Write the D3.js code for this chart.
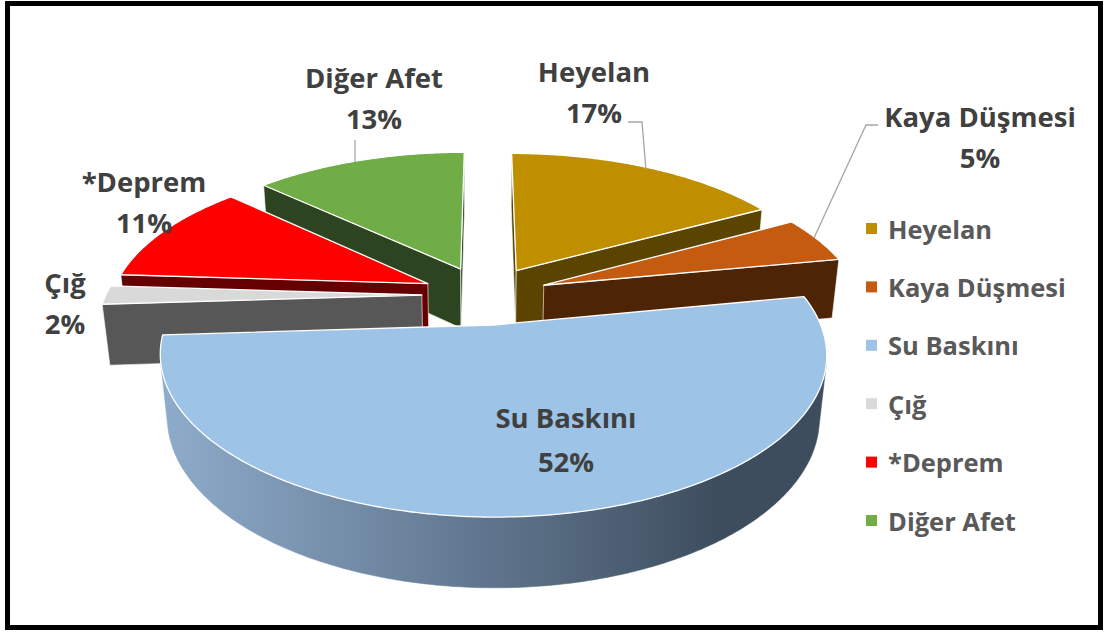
<!DOCTYPE html>
<html>
<head>
<meta charset="utf-8">
<script src="https://cdn.jsdelivr.net/npm/d3@7"></script>
<style>
  body { margin: 0; background: #fff; }
  svg { display: block; }
  text { font-family: "Open Sans", sans-serif; font-weight: 700; }
</style>
</head>
<body>
<div id="chart"></div>
<script>
// --- data ---
const categories = ["Heyelan", "Kaya Düşmesi", "Su Baskını", "Çığ", "*Deprem", "Diğer Afet"];
const values = [17, 5, 52, 2, 11, 13];

// --- colours (top face / cut faces / outer wall) ---
const topColors  = ["#BF8F00", "#C55A11", "#9DC3E6", "#D9D9D9", "#FF0000", "#70AD47"];
const cutColors  = ["#5a4400", "#4e2407", "#4a5a6b", "#575757", "#660000", "#2c4420"];
const wallColors = ["#6b5000", "#6b3008", "url(#suWall)", "#a6a6a6", "#800000", "#375b24"];

// data label anchors (centre of first line)
const labelPos = [[594, 72], [980, 117], [566, 418], [65, 283], [144, 182], [374, 78]];

const W = 1106, H = 634;
const svg = d3.select("#chart").append("svg")
  .attr("width", W)
  .attr("height", H);

const defs = svg.append("defs");
const grad = defs.append("linearGradient")
  .attr("id", "suWall")
  .attr("gradientUnits", "userSpaceOnUse")
  .attr("x1", 160).attr("x2", 720).attr("y1", 0).attr("y2", 0);
grad.append("stop").attr("offset", 0).attr("stop-color", "#8eaccb");
grad.append("stop").attr("offset", 0.45).attr("stop-color", "#6b829c");
grad.append("stop").attr("offset", 1).attr("stop-color", "#3d4d5e");

// frame
svg.append("rect")
  .attr("x", 7.5).attr("y", 3.5)
  .attr("width", 1093).attr("height", 624)
  .attr("fill", "#fff")
  .attr("stroke", "#000")
  .attr("stroke-width", 5);

// --- simple 3D projection of a tilted pie ---
const K = 316, cx = 485, cy = 295, D = 5;
const tilt = 27.5 * Math.PI / 180, explode = 0.2, thick = 0.22;
const sinT = Math.sin(tilt), cosT = Math.cos(tilt);
const cam = [0, D * sinT, -D * cosT];

function project(p) {
  const [x, y, z] = p;
  const yp = z * sinT + y * cosT;
  const zp = D + z * cosT - y * sinT;
  return [cx + K * x * D / zp, cy - K * yp * D / zp];
}
function facing(p, n) {
  return (cam[0] - p[0]) * n[0] + (cam[1] - p[1]) * n[1] + (cam[2] - p[2]) * n[2] > 0;
}
function dist(p) {
  return Math.hypot(cam[0] - p[0], cam[1] - p[1], cam[2] - p[2]);
}
const line = d3.line();
const poly = pts => line(pts.map(project)) + "Z";

const arcs = d3.pie().sort(null).value(d => d)(values);

const slices = arcs.map((a, i) => {
  const a0 = a.startAngle, a1 = a.endAngle, mid = (a0 + a1) / 2;
  const ox = explode * Math.sin(mid), oz = explode * Math.cos(mid);
  const pt = (t, r, y) => [ox + r * Math.sin(t), y, oz + r * Math.cos(t)];
  const n = Math.max(2, Math.ceil((a1 - a0) / 0.01));
  const ts = d3.range(n + 1).map(k => a0 + (a1 - a0) * k / n);
  return { i, a0, a1, mid, pt, ts, d: dist(pt(mid, 0.5, 0)) };
}).sort((p, q) => q.d - p.d);

const pieG = svg.append("g");

slices.forEach(s => {
  const { i, a0, a1, pt, ts } = s;
  const g = pieG.append("g");

  // cut faces
  const cuts = [
    { t: a0, n: [-Math.cos(a0), 0, Math.sin(a0)] },
    { t: a1, n: [Math.cos(a1), 0, -Math.sin(a1)] }
  ];
  cuts.forEach(c => {
    if (!facing(pt(c.t, 0.5, -thick / 2), c.n)) return;
    g.append("path")
      .attr("d", poly([pt(c.t, 0, 0), pt(c.t, 1, 0), pt(c.t, 1, -thick), pt(c.t, 0, -thick)]))
      .attr("fill", cutColors[i])
      .attr("stroke", "#fff")
      .attr("stroke-width", 1)
      .attr("stroke-opacity", 0.6)
      .attr("stroke-linejoin", "round");
  });

  // outer wall (visible part)
  const vis = ts.filter(t => facing(pt(t, 1, -thick / 2), [Math.sin(t), 0, Math.cos(t)]));
  if (vis.length > 1) {
    const pts = vis.map(t => pt(t, 1, 0)).concat(vis.slice().reverse().map(t => pt(t, 1, -thick)));
    g.append("path")
      .attr("d", poly(pts))
      .attr("fill", wallColors[i])
      .attr("stroke", wallColors[i])
      .attr("stroke-width", 0.5);
  }

  // top face
  const top = [pt(a0, 0, 0)].concat(ts.map(t => pt(t, 1, 0)));
  g.append("path")
    .attr("d", poly(top))
    .attr("fill", topColors[i])
    .attr("stroke", "#fff")
    .attr("stroke-width", 1.3)
    .attr("stroke-linejoin", "round");
});

// leader lines
const leaders = [
  [[628, 122], [642, 122], [646, 170]],
  [[878, 125], [866, 125], [814, 238]],
  [[355, 140], [355, 162]]
];
svg.append("g").selectAll("path")
  .data(leaders)
  .join("path")
  .attr("d", d => line(d))
  .attr("fill", "none")
  .attr("stroke", "#a6a6a6")
  .attr("stroke-width", 1.3);

// data labels
const total = d3.sum(values);
const pct = d3.format(".0%");
const labels = svg.append("g").selectAll("text")
  .data(categories)
  .join("text")
  .attr("text-anchor", "middle")
  .attr("font-size", 27.5)
  .attr("fill", "#404040");
labels.append("tspan")
  .attr("x", (d, i) => labelPos[i][0])
  .attr("y", (d, i) => labelPos[i][1] + 10)
  .text(d => d);
labels.append("tspan")
  .attr("x", (d, i) => labelPos[i][0])
  .attr("y", (d, i) => labelPos[i][1] + 10 + (i === 2 ? 44 : 41))
  .text((d, i) => pct(values[i] / total));

// legend
const legend = svg.append("g")
  .attr("transform", "translate(866,229)")
  .selectAll("g")
  .data(categories)
  .join("g")
  .attr("transform", (d, i) => `translate(0,${i * 58.4})`);
legend.append("rect")
  .attr("x", 0).attr("y", -6)
  .attr("width", 11).attr("height", 11)
  .attr("fill", (d, i) => topColors[i]);
legend.append("text")
  .attr("x", 22).attr("y", 9.5)
  .attr("font-size", 25.5)
  .attr("fill", "#595959")
  .text(d => d);
</script>
</body>
</html>
